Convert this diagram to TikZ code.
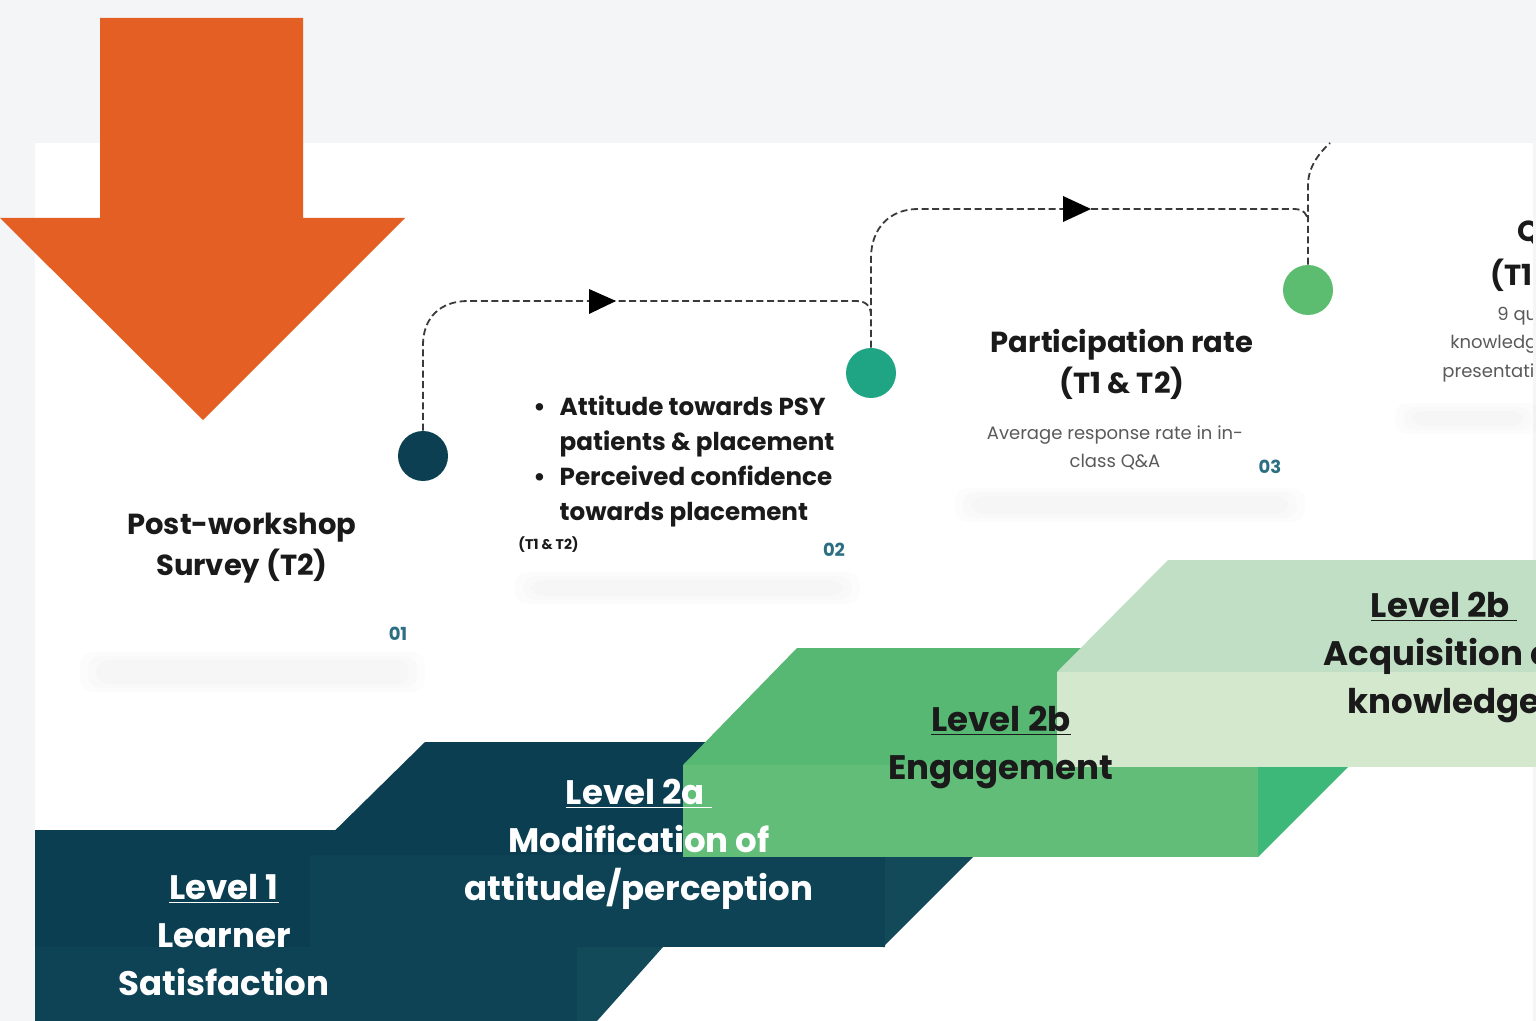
\documentclass[tikz,border=0pt]{standalone}
\usepackage{fontspec}
\setmainfont{Poppins}
\definecolor{bgc}{HTML}{F4F5F7}
\definecolor{orng}{HTML}{E35F24}
\definecolor{dkA}{HTML}{0C3E51}
\definecolor{dkB}{HTML}{0E4355}
\definecolor{dkC}{HTML}{124A5A}
\definecolor{egA}{HTML}{56B873}
\definecolor{egB}{HTML}{62BD78}
\definecolor{egC}{HTML}{3DB879}
\definecolor{lgA}{HTML}{C0DFC5}
\definecolor{lgB}{HTML}{D4E8CE}
\definecolor{cOne}{HTML}{0D3F52}
\definecolor{cTwo}{HTML}{1FA584}
\definecolor{cThree}{HTML}{5CBD71}
\definecolor{numc}{HTML}{2C6E82}
\definecolor{txt}{HTML}{1A1A1A}
\definecolor{gtxt}{HTML}{5A5A5A}
\definecolor{conn}{HTML}{3A3A3A}
\tikzset{
  lvl/.style={align=center, font=\fontsize{17}{24}\selectfont\bfseries, inner sep=0pt},
  cardtitle/.style={align=center, font=\fontsize{14.5}{20.5}\selectfont\bfseries, text=txt, inner sep=0pt},
  smalltxt/.style={align=center, font=\fontsize{9}{14}\selectfont, text=gtxt, inner sep=0pt},
  numtxt/.style={font=\fontsize{9}{10}\selectfont\bfseries, text=numc, inner sep=0pt},
  dot/.style={circle, minimum size=25pt, inner sep=0pt},
  connline/.style={draw=conn, line width=0.9pt, dash pattern=on 3.5pt off 1.8pt},
  shade/.style={fill=black, opacity=0.011, rounded corners=6pt},
}
\begin{document}
\begin{tikzpicture}[x=0.5pt,y=-0.5pt]
\useasboundingbox (0,0) rectangle (1536,1021);
\clip (0,0) rectangle (1536,1021);
\fill[bgc] (0,0) rectangle (1536,1021);
\fill[white] (35,143) rectangle (1533,1021);

% card shadows
\foreach \a/\b/\c/\d in {80/652/425/692, 515/572/860/604, 955/488/1305/522, 1395/403/1540/434}{
  \fill[shade] (\a,\b) rectangle (\c,\d);
  \fill[shade] (\a+8,\b+4) rectangle (\c-8,\d-4);
  \fill[shade] (\a+16,\b+8) rectangle (\c-16,\d-8);
}

% Level 1
\fill[dkA] (35,830) rectangle (580,948);
\fill[dkB] (35,947) rectangle (577,1021);
\fill[dkC] (577,947) -- (663,947) -- (597,1021) -- (577,1021) -- cycle;
% Level 2a
\fill[dkA] (425,742) -- (760,742) -- (760,855) -- (310,855) -- cycle;
\fill[dkB] (310,855) rectangle (885,947);
\fill[dkC] (885,855) -- (975,855) -- (883,947) -- (885,947) -- cycle;
% Level 2b engagement
\fill[egA] (797,648) -- (1350,648) -- (1350,765) -- (683,765) -- cycle;
\fill[egB] (683,765) rectangle (1258,857);
\fill[egC] (1258,765) -- (1350,765) -- (1258,857) -- cycle;
% Level 2b acquisition
\fill[lgA] (1168,560) -- (1536,560) -- (1536,672) -- (1057,672) -- cycle;
\fill[lgB] (1057,672) rectangle (1536,767);

% level texts
\node[lvl, text=white] (lvlone) at (224,935) {\underline{Level 1}\\Learner\\Satisfaction};
\node[lvl, text=white] (lvltwoa) at (639,844) {\underline{Level 2a\ }\\Modification of\\attitude/perception};
\node[lvl, text=txt] (lvleng) at (1001,747) {\underline{Level 2b}\\Engagement};
\node[lvl, text=txt] (lvlacq) at (1444,657) {\underline{Level 2b\ }\\Acquisition of\\knowledge};

% card 1
\node[cardtitle] (t1) at (242,548) {Post-workshop\\Survey (T2)};
\node[numtxt] (n1) at (398,634) {01};
% card 2
\node[align=left, anchor=west, inner sep=0pt, text=txt, font=\fontsize{12.3}{17.5}\selectfont\bfseries] (t2) at (533,461)
  {\textbullet\hspace{7pt}Attitude towards PSY\\\hphantom{\textbullet\hspace{7pt}}patients \& placement\\\textbullet\hspace{7pt}Perceived confidence\\\hphantom{\textbullet\hspace{7pt}}towards placement};
\node[anchor=west, inner sep=0pt, text=txt, font=\fontsize{7}{8}\selectfont\bfseries] (tt2) at (518,545) {(T1 \& T2)};
\node[numtxt] (n2) at (834,550) {02};
% card 3
\node[cardtitle] (t3) at (1122,364) {Participation rate\\(T1 \& T2)};
\node[smalltxt] (s3) at (1115,448) {Average response rate in in-\\class Q\&A};
\node[numtxt] (n3) at (1270,467) {03};
% card 4 (cut off at the panel edge)
\begin{scope}
\clip (35,143) rectangle (1532,1021);
\node[cardtitle, anchor=west] (t4a) at (1517,232) {Quiz};
\node[cardtitle, anchor=west] (t4b) at (1490,275) {(T1 \& T2)};
\node[smalltxt, anchor=west] (s4a) at (1497,316) {9 questions on};
\node[smalltxt, anchor=west] (s4b) at (1450,344) {knowledge in};
\node[smalltxt, anchor=west] (s4c) at (1442,373) {presentation};
\end{scope}

% circles
\node[dot, fill=cOne] (c1) at (423,456) {};
\node[dot, fill=cTwo] (c2) at (871,373) {};
\node[dot, fill=cThree] (c3) at (1308,290) {};

% connectors
\draw[connline] (c1.north) -- (423,345) .. controls (423,318) and (440,301) .. (468,301) -- (856,301) .. controls (866,301) and (871,306) .. (871,316);
\draw[connline] (c2.north) -- (871,258) .. controls (871,228) and (890,209) .. (918,209) -- (1294,209) .. controls (1303,209) and (1308,214) .. (1308,222);
\draw[connline] (c3.north) -- (1308,185) .. controls (1308,168) and (1318,154) .. (1330,143);
\fill[black] (589,289) -- (616,301) -- (589,314) -- cycle;
\fill[black] (1063,196) -- (1091,209) -- (1063,222) -- cycle;

% orange arrow
\fill[orng] (100,18) -- (303,18) -- (303,218) -- (405,218) -- (203,420) -- (0,218) -- (100,218) -- cycle;
\end{tikzpicture}
\end{document}
